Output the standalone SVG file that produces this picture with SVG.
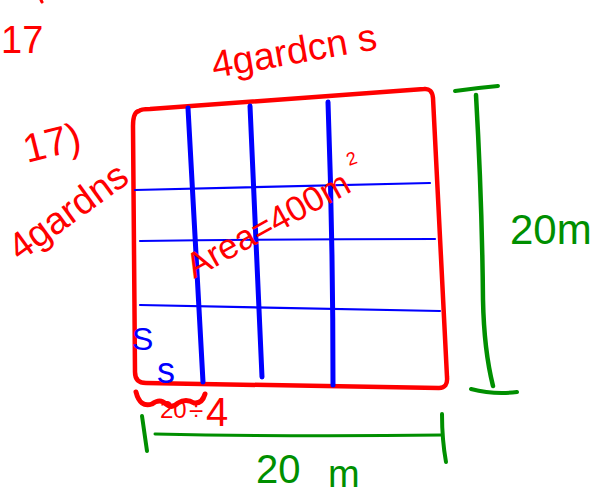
<svg xmlns="http://www.w3.org/2000/svg" width="597" height="498" viewBox="0 0 597 498">
<style>
.r{fill:none;stroke:#ff0000;stroke-linecap:round;stroke-linejoin:round}
.b{fill:none;stroke:#0000ff;stroke-linecap:round;stroke-linejoin:round}
.g{fill:none;stroke:#008f00;stroke-linecap:round;stroke-linejoin:round}
.tr{fill:#ff0000;font-family:"Liberation Sans",Arial,sans-serif}
.tb{fill:#0000ff;font-family:"Liberation Sans",Arial,sans-serif}
.tg{fill:#008f00;font-family:"Liberation Sans",Arial,sans-serif}
</style>
<rect width="597" height="498" fill="#ffffff"/>
<g id="labels-top">
<path class="r" stroke-width="3" d="M41,0 L42,2"/>
<text class="tr" x="1" y="53" font-size="38">17</text>
<text class="tr" x="214" y="78" font-size="38" transform="rotate(-10 214 78)">4gardcn s</text>
<text class="tr" x="27" y="163" font-size="40" transform="rotate(-14 27 163)">17)</text>
<text class="tr" x="20" y="262" font-size="38" transform="rotate(-36 20 262)">4gardns</text>
</g>
<g id="plot">
<path class="r" stroke-width="4.5" d="M139,111 Q133,112 133,126 L135,372 Q135,383 146,383 L439,388 Q448,388 447,377 L433,98 Q432,88 424,89 L150,109 Q141,109 139,111 Z"/>
</g>
<g id="grid">
<path class="b" stroke-width="2.2" d="M135,190 Q280,186 430,183"/>
<path class="b" stroke-width="2.2" d="M140,241 Q290,239 435,239"/>
<path class="b" stroke-width="2.2" d="M140,305 Q290,308 440,311"/>
<path class="b" stroke-width="5" d="M188,108 Q195,240 203,382"/>
<path class="b" stroke-width="5" d="M250,106 Q256,240 262,377"/>
<path class="b" stroke-width="5" d="M328,102 Q333,240 333,385"/>
</g>
<g id="area">
<text class="tr" x="194" y="279" font-size="35" transform="rotate(-29 194 279)">Area=400m</text>
<text class="tr" x="349" y="166" font-size="18" transform="rotate(-20 349 166)">2</text>
</g>
<g id="side-labels">
<text class="tb" x="132" y="350" font-size="32">S</text>
<text class="tb" x="157" y="383" font-size="36">s</text>
<path class="r" stroke-width="5" d="M136,392 Q140,408 152,404 Q160,398 166,404 Q172,409 178,403 Q186,398 194,403 Q202,404 205,394"/>
<text class="tr" x="160" y="418" font-size="24">20</text>
<text class="tr" x="189" y="420" font-size="26">÷</text>
<text class="tr" x="206" y="426" font-size="40">4</text>
</g>
<g id="dimension-right">
<path class="g" stroke-width="4" d="M455,91 Q476,88 498,86"/>
<path class="g" stroke-width="4.5" d="M476,95 Q482,200 483,300 Q484,350 493,386"/>
<path class="g" stroke-width="4" d="M471,389 Q494,395 517,392"/>
<text class="tg" x="510" y="244" font-size="42">20m</text>
</g>
<g id="dimension-bottom">
<path class="g" stroke-width="4" d="M142,416 L147,451"/>
<path class="g" stroke-width="3" d="M155,434 Q300,437 442,435"/>
<path class="g" stroke-width="4" d="M442,414 Q442,440 446,462"/>
<text class="tg" x="256" y="483" font-size="40">20</text>
<text class="tg" x="328" y="487" font-size="38">m</text>
</g>
</svg>
